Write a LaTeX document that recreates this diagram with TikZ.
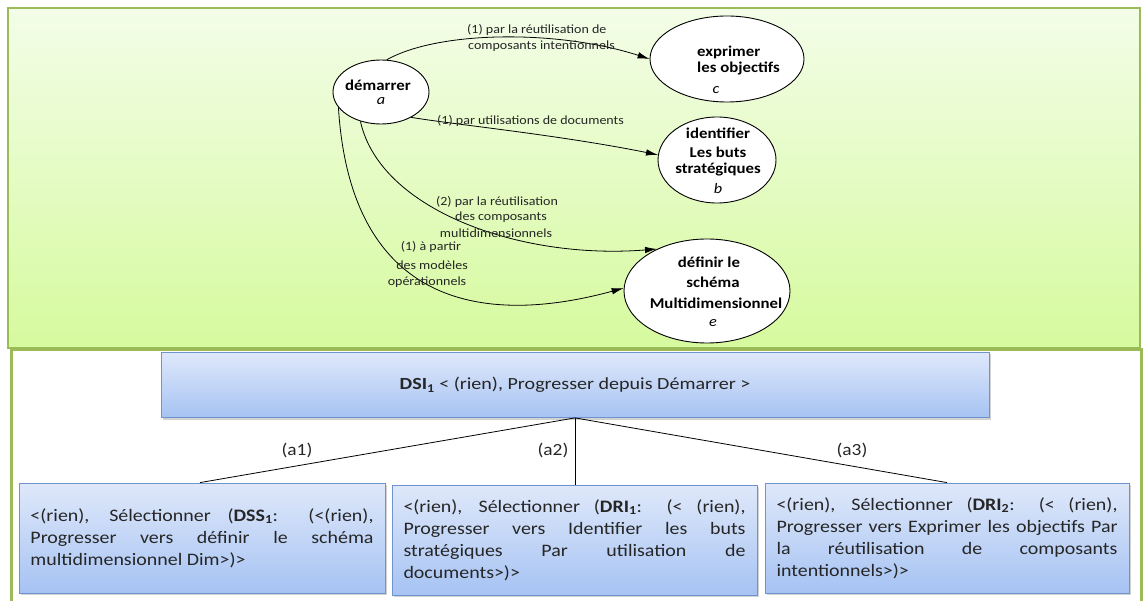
\documentclass[tikz,border=0pt]{standalone}
\usepackage{fontspec}
\setmainfont{Carlito}
\newfontfamily\fLbl[FakeStretch=1.12]{Carlito}
\newfontfamily\fEll[FakeStretch=1.12]{Carlito}
\newfontfamily\fBox[FakeStretch=1.14]{Carlito}
\newfontfamily\fDsi[FakeStretch=1.18]{Carlito}
\usetikzlibrary{shapes.geometric,arrows.meta,shadows}
\definecolor{pgreen}{HTML}{9BBB59}
\definecolor{gtop}{HTML}{F3FDE8}
\definecolor{gbot}{HTML}{D6FA9E}
\definecolor{btop}{HTML}{DFE8FA}
\definecolor{bbot}{HTML}{A6C3F3}
\definecolor{bborder}{HTML}{6F93CF}
\definecolor{txt}{HTML}{262626}
\tikzset{
  ell/.style={ellipse, draw=black, line width=0.9pt, fill=white, inner sep=0pt},
  etext/.style={font=\fEll\bfseries\fontsize{15}{19}\selectfont, text=black, inner sep=0pt, align=center},
  eletter/.style={font=\fEll\itshape\fontsize{14.5}{16}\selectfont, text=black, inner sep=0pt},
  lbl/.style={font=\fLbl\fontsize{12.5}{15.5}\selectfont, text=txt, inner sep=0pt},
  conn/.style={draw=black, line width=0.8pt, -{Latex[length=12pt,width=6.5pt]}},
  bluebox/.style={draw=bborder, line width=0.8pt, top color=btop, bottom color=bbot,
    drop shadow={shadow xshift=2pt, shadow yshift=-2pt, opacity=0.35}},
  selbox/.style={bluebox, align=justify, inner xsep=11.5pt, inner ysep=0pt, minimum height=110pt,
    font=\fBox\fontsize{17.5}{22}\selectfont, text=txt},
  tree/.style={draw=black, line width=0.8pt},
  alabel/.style={font=\fBox\fontsize{17}{18}\selectfont, text=txt, inner sep=0pt}
}
\begin{document}
\begin{tikzpicture}[x=1pt,y=-1pt]
\useasboundingbox (0,0) rectangle (1143,601);
% panels
\path[draw=pgreen, line width=1.5pt, top color=gtop, bottom color=gbot] (8,8) rectangle (1140,348);
\path[draw=pgreen, line width=3pt, fill=white] (11.5,349.5) rectangle (1141,610);

% ellipses
\node[ell, minimum width=96pt, minimum height=64pt] (a) at (381,92) {};
\node[ell, minimum width=154pt, minimum height=86pt] (c) at (727,59) {};
\node[ell, minimum width=118pt, minimum height=86pt] (b) at (717,160) {};
\node[ell, minimum width=166pt, minimum height=104pt] (e) at (707,291) {};

\node[etext] (at) at (378,85) {démarrer};
\node[eletter] (al) at (381,101) {a};
\node[etext, align=left, anchor=west] (ct1) at (697,52) {exprimer};
\node[etext, align=left, anchor=west] (ct2) at (697,68) {les objectifs};
\node[eletter] (cl) at (716,90) {c};
\node[etext] (bt1) at (718,133) {identifier};
\node[etext] (bt2) at (718,152) {Les buts};
\node[etext] (bt3) at (718,170) {stratégiques};
\node[eletter] (bl) at (718,189) {b};
\node[etext] (et1) at (709,262) {définir le};
\node[etext] (et2) at (713,282) {schéma};
\node[etext] (et3) at (716,303) {Multidimensionnel};
\node[eletter] (el) at (713,323) {e};

% connectors
\draw[conn] (a.80) .. controls (440,30) and (560,30) .. (c.west);
\draw[conn] (a.-40) .. controls (450,124) and (560,135) .. (b.175);
\draw[conn] (a.-125) .. controls (380,210) and (520,260) .. (e.140);
\draw[conn] (a.-160) .. controls (350,295) and (470,330) .. (e.178);

% edge labels
\node[lbl, anchor=west] (l1a) at (467,30) {(1) par la réutilisation de};
\node[lbl, anchor=west] (l1b) at (468,46) {composants intentionnels};
\node[lbl, anchor=west] (l2) at (437,121) {(1) par utilisations de documents};
\node[lbl] (l3a) at (497,202) {(2) par la réutilisation};
\node[lbl] (l3b) at (501,217) {des composants};
\node[lbl] (l3c) at (496,233) {multidimensionnels};
\node[lbl] (l4a) at (431,247) {(1) à partir};
\node[lbl] (l4b) at (432,265) {des modèles};
\node[lbl] (l4c) at (427,282) {opérationnels};

% bottom part
\node[bluebox, minimum width=828pt, minimum height=65pt, inner sep=0pt,
  font=\fDsi\fontsize{17}{20}\selectfont, text=txt] (dsi) at (575,385)
  {\textbf{DSI\textsubscript{1}} < (rien), Progresser depuis Démarrer >};

\node[selbox, text width=343pt] (s1) at (202,538)
 {<(rien), Sélectionner (\textbf{DSS\textsubscript{1}}: (<(rien),\linebreak
  Progresser vers définir le schéma\linebreak multidimensionnel Dim>)>};
\node[selbox, text width=342pt] (s2) at (574.5,540)
 {<(rien), Sélectionner (\textbf{DRI\textsubscript{1}}: (< (rien),\linebreak
  Progresser vers Identifier les buts\linebreak stratégiques Par utilisation de\linebreak documents>)>};
\node[selbox, text width=341pt] (s3) at (947,538)
 {<(rien), Sélectionner (\textbf{DRI\textsubscript{2}}: (< (rien),\linebreak
  Progresser vers Exprimer les objectifs Par\linebreak la réutilisation de composants\linebreak intentionnels>)>};

\coordinate (apex) at (dsi.south);
\draw[tree] (apex) -- (s1.north -| 200,0);
\draw[tree] (apex) -- (s2.north -| apex);
\draw[tree] (apex) -- (s3.north -| 947,0);
\node[alabel] (a1) at (297,450) {(a1)};
\node[alabel] (a2) at (553,450) {(a2)};
\node[alabel] (a3) at (852,450) {(a3)};
\end{tikzpicture}
\end{document}
